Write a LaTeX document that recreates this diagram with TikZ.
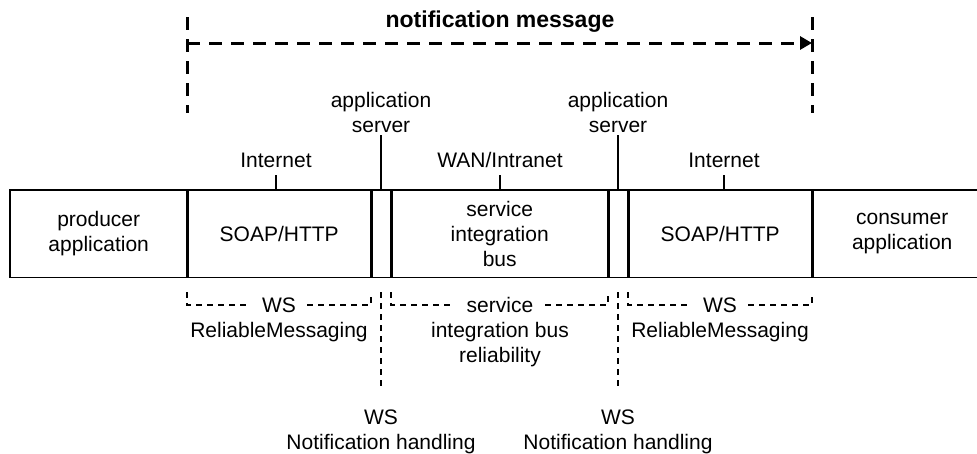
\documentclass[tikz,border=0pt]{standalone}
\usepackage{fontspec}
\setmainfont{Liberation Sans}
\usetikzlibrary{arrows.meta}
\begin{document}
\begin{tikzpicture}[x=1pt,y=-1pt,
  txt/.style={font=\fontsize{21}{25}\selectfont, align=center, inner sep=0pt},
  cell/.style={txt, minimum height=87pt, anchor=north west},
  outline/.style={line width=1.8pt},
  divider/.style={line width=3pt},
  tick/.style={line width=1.4pt},
  bigdash/.style={line width=3pt, dash pattern=on 13pt off 9pt},
  brk/.style={line width=2.2pt, dash pattern=on 5.5pt off 5.5pt},
  wsgap/.style={txt, inner xsep=11pt}
]
\useasboundingbox (0,0) rectangle (977,453);

% ---- main row of cells
\node[cell, minimum width=177pt] (prod)  at (10,190)  {producer\\application};
\node[cell, minimum width=184pt] (soap1) at (187,190) {SOAP/HTTP};
\node[cell, minimum width=20pt]  (as1)   at (371,190) {};
\node[cell, minimum width=217pt] (sib)   at (391,190) {service\\integration\\bus};
\node[cell, minimum width=20pt]  (as2)   at (608,190) {};
\node[cell, minimum width=184pt] (soap2) at (628,190) {SOAP/HTTP};
\node[cell, minimum width=180pt] (cons)  at (812,190) {consumer\\application};

\draw[outline] (cons.north east) -- (prod.north west) -- (prod.south west) -- (cons.south east);
\foreach \c in {soap1,as1,sib,as2,soap2,cons}
  \draw[divider] (\c.north west) -- (\c.south west);

% ---- labels above
\node[txt, anchor=south, outer ysep=7.5pt] (inet1) at (276,175) {Internet};
\node[txt, anchor=south, outer ysep=7.5pt] (wan)   at (500,175) {WAN/Intranet};
\node[txt, anchor=south, outer ysep=7.5pt] (inet2) at (724,175) {Internet};
\node[txt, anchor=south, outer ysep=2.5pt] (srv1)  at (381,135) {application\\server};
\node[txt, anchor=south, outer ysep=2.5pt] (srv2)  at (618,135) {application\\server};
\draw[tick] (inet1.south) -- (inet1.south |- soap1.north);
\draw[tick] (wan.south)   -- (wan.south |- sib.north);
\draw[tick] (inet2.south) -- (inet2.south |- soap2.north);
\draw[tick] (srv1.south)  -- (srv1.south |- as1.north);
\draw[tick] (srv2.south)  -- (srv2.south |- as2.north);

% ---- notification message
\node[font=\bfseries\fontsize{23}{27}\selectfont, inner sep=0pt, anchor=base] (title) at (500,27) {notification message};
\coordinate (ltop) at (187,17);
\coordinate (lbot) at (187,113);
\coordinate (rtop) at (812,17);
\coordinate (rbot) at (812,113);
\coordinate (astart) at (187,43);
\coordinate (aend) at (812,43);
\draw[bigdash] (ltop) -- (lbot);
\draw[bigdash] (rtop) -- (rbot);
\draw[bigdash, -{Triangle[length=12pt,width=13pt]}] (astart) -- (aend);

% ---- reliability brackets
\coordinate (b1l) at (187,292);
\coordinate (b1r) at (371,292);
\coordinate (b2l) at (391,292);
\coordinate (b2r) at (608,292);
\coordinate (b3l) at (628,292);
\coordinate (b3r) at (812,292);

\node[wsgap] (ws1) at (279,305) {WS};
\node[txt, anchor=base] (rm1) at (279,337.5) {ReliableMessaging};
\draw[brk] (b1l) |- (ws1.west);
\draw[brk] (ws1.east) -| (b1r);

\node[txt, inner xsep=12pt] (sv) at (500,305) {service};
\node[txt, anchor=base] (sibr) at (500,362.5) {integration bus\\reliability};
\draw[brk] (b2l) |- (sv.west);
\draw[brk] (sv.east) -| (b2r);

\node[wsgap] (ws2) at (720,305) {WS};
\node[txt, anchor=base] (rm2) at (720,337.5) {ReliableMessaging};
\draw[brk] (b3l) |- (ws2.west);
\draw[brk] (ws2.east) -| (b3r);

% ---- WS notification handling
\coordinate (n1top) at (381,292);
\coordinate (n2top) at (618,292);
\node[txt, anchor=north, outer ysep=22pt] (nh1) at (381,388) {WS\\Notification handling};
\node[txt, anchor=north, outer ysep=22pt] (nh2) at (618,388) {WS\\Notification handling};
\draw[brk] (n1top) -- (nh1.north);
\draw[brk] (n2top) -- (nh2.north);
\end{tikzpicture}
\end{document}
